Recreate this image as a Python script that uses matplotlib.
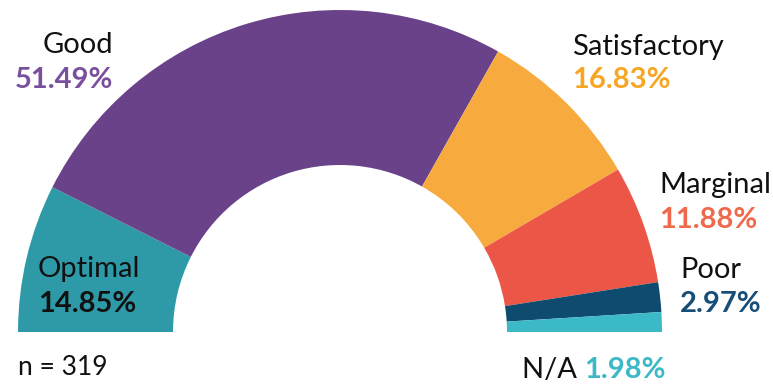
"""Half donut of condition ratings."""
import matplotlib
matplotlib.use("Agg")
from matplotlib import pyplot as plt

labels = ["Optimal", "Good", "Satisfactory", "Marginal", "Poor", "N/A"]
shares = [14.85, 51.49, 16.83, 11.88, 2.97, 1.98]
n_total = 319

colors = ["#2e9aa7", "#6a4289", "#f7ab3f", "#eb5646", "#0f4a6f", "#3cb9c6"]
pct_colors = ["#111111", "#7a4f9d", "#f6a623", "#ef6a4d", "#174e78", "#3db8c6"]

W, H = 773, 385
plt.rcParams["font.family"] = ["Lato", "DejaVu Sans"]

fig = plt.figure(figsize=(W / 100, H / 100), dpi=100)
ax = fig.add_axes([0, 0, 1, 1])

# hidden bottom half so the visible part is a semicircle
vals = shares + [sum(shares)]
cols = colors + ["none"]
cx, cy = 340, H - 332
r_out, r_in = 322, 167
ax.pie(vals, colors=cols, startangle=180, counterclock=False,
       center=(cx, cy), radius=r_out,
       wedgeprops=dict(width=r_out - r_in, linewidth=0))

ax.set_xlim(0, W)
ax.set_ylim(0, H)
ax.set_aspect("auto")
ax.axis("off")


def y(v):
    return H - v


fs = 21
# (label, x, baseline of name, baseline of pct, align)
spots = {
    "Optimal": (38, 277, 312, "left"),
    "Good": (113, 53, 88, "right"),
    "Satisfactory": (572, 55, 88, "left"),
    "Marginal": (659, 193, 228, "left"),
    "Poor": (680, 278, 312, "left"),
}
for i, lab in enumerate(labels):
    if lab not in spots:
        continue
    x, yb1, yb2, ha = spots[lab]
    ax.text(x, y(yb1), lab, fontsize=fs, ha=ha, va="baseline", color="#111111")
    ax.text(x, y(yb2), f"{shares[i]:.2f}%", fontsize=fs, ha=ha,
            va="baseline", color=pct_colors[i], fontweight="bold")

t = ax.text(522, y(378), "N/A ", fontsize=fs, ha="left", va="baseline",
            color="#111111")
ax.annotate(f"{shares[5]:.2f}%", xycoords=t, xy=(1, 0), va="bottom",
            fontsize=fs, color=pct_colors[5], fontweight="bold")

ax.text(18, y(375), f"n = {n_total}", fontsize=19, ha="left", va="baseline",
        color="#111111")

fig.savefig("out.png", dpi=100)
